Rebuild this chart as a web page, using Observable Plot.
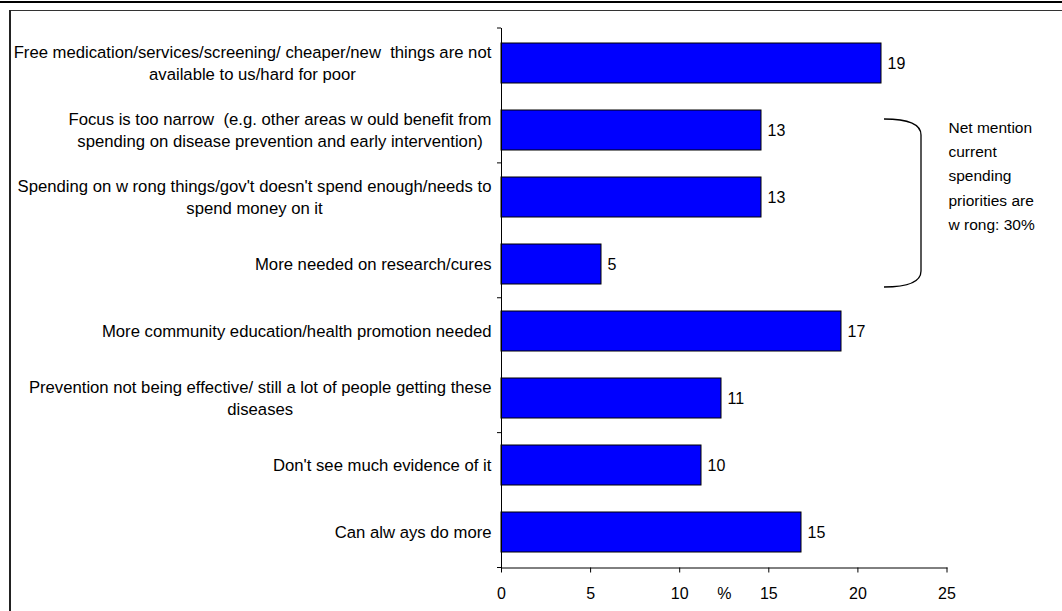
<!DOCTYPE html>
<html>
<head>
<meta charset="utf-8">
<script src="https://cdn.jsdelivr.net/npm/d3@7"></script>
<script src="https://cdn.jsdelivr.net/npm/@observablehq/plot@0.6"></script>
<style>
  html, body { margin: 0; padding: 0; background: #fff; }
  #wrap { position: relative; width: 1062px; height: 611px; overflow: hidden; font-family: "Liberation Sans", Arial, sans-serif; }
  #wrap svg { position: absolute; left: 0; top: 0; }
  #wrap svg g[aria-label*="x-axis"], #wrap svg g[aria-label*="x-axis"] text { font-size: 16px !important; font-variant: normal !important; }
  .rule-thick { position: absolute; left: 0; right: 0; top: 1px; height: 2px; background: #000; }
  .rule-thin { position: absolute; left: 9px; right: 0; top: 10px; height: 1px; background: #333; }
  .rule-left { position: absolute; left: 9px; top: 10px; bottom: 0; width: 2px; background: #222; }
</style>
</head>
<body>
<div id="wrap">
  <div class="rule-thick"></div>
  <div class="rule-thin"></div>
  <div class="rule-left"></div>
</div>
<script>
// ---- data ----
const categories = [
  "Free medication/services/screening/ cheaper/new  things are not\navailable to us/hard for poor",
  "Focus is too narrow  (e.g. other areas w ould benefit from\nspending on disease prevention and early intervention)",
  "Spending on w rong things/gov't doesn't spend enough/needs to\nspend money on it",
  "More needed on research/cures",
  "More community education/health promotion needed",
  "Prevention not being effective/ still a lot of people getting these\ndiseases",
  "Don't see much evidence of it",
  "Can alw ays do more"
];
const values = [19, 13, 13, 5, 17, 11, 10, 15];
const tickLabels = [0, 5, 10, 15, 20, 25];
const axisTitle = "%";
const bracketFirst = 1;   // index of first bracketed category
const bracketLast = 3;    // index of last bracketed category
const bracketNote = "Net mention\ncurrent\nspending\npriorities are\nw rong: 30%";

// The printed axis in the source is compressed relative to the bars
const axisStretch = 0.891;

const rows = categories.map((c, i) => ({category: c, value: values[i]}));

const FONT = "Liberation Sans, Arial, sans-serif";

function yAxisTicks(index, scales, values, dims) {
  const g = d3.create("svg:g");
  const top = dims.marginTop, bottom = dims.height - dims.marginBottom;
  const n = categories.length;
  for (let k = 0; k <= n; k += 2) {
    const y = top + (bottom - top) * k / n;
    g.append("line")
      .attr("x1", dims.marginLeft - 4).attr("x2", dims.marginLeft)
      .attr("y1", y).attr("y2", y)
      .attr("stroke", "#000").attr("stroke-width", 1);
  }
  return g.node();
}

function bracket(index, scales, values, dims) {
  const xv = scales.x(21);
  const arm = 37;
  const r = 16;
  const yTop = scales.y(categories[bracketFirst]) + 9;
  const yBot = scales.y(categories[bracketLast + 1]) - 24;
  const p = d3.path();
  p.moveTo(xv - arm, yTop);
  p.quadraticCurveTo(xv, yTop, xv, yTop + r);
  p.lineTo(xv, yBot - r);
  p.quadraticCurveTo(xv, yBot, xv - arm, yBot);
  return d3.create("svg:path")
    .attr("d", p.toString())
    .attr("fill", "none")
    .attr("stroke", "#000")
    .attr("stroke-width", 1.3)
    .node();
}

const chart = Plot.plot({
  width: 1062,
  height: 611,
  marginLeft: 501,
  marginRight: 115.5,
  marginTop: 28,
  marginBottom: 43.5,
  style: {fontFamily: FONT, fontSize: "15px", color: "#000", background: "transparent"},
  x: {domain: [0, 25 * axisStretch], axis: null},
  y: {domain: categories, paddingInner: 0.4, paddingOuter: 0.2, axis: null},
  marks: [
    Plot.barX(rows, {x: "value", y: "category", fill: "#0000FF", stroke: "#000", strokeWidth: 1}),
    Plot.frame({anchor: "left", stroke: "#000"}),
    Plot.frame({anchor: "bottom", stroke: "#000"}),
    yAxisTicks,
    Plot.axisX(tickLabels.map(t => t * axisStretch), {
      tickSize: 5, tickPadding: 15, fontSize: 16,
      tickFormat: d => String(Math.round(d / axisStretch)),
      label: null, stroke: "#000"
    }),
    Plot.text([axisTitle], {
      x: 12.5 * axisStretch, frameAnchor: "bottom", lineAnchor: "top", dy: 20,
      text: d => d, fontSize: 16
    }),
    Plot.text(rows, {
      x: "value", y: "category", text: d => String(d.value),
      textAnchor: "start", dx: 6, fontSize: 16, fill: "#000"
    }),
    Plot.text(rows, {
      x: 0, y: "category", text: "category", textAnchor: "middle", dx: -10, dy: -2,
      lineHeight: 1.32, fontSize: 16.7, fill: "#000", className: "ylab"
    }),
    bracket,
    Plot.text([bracketNote], {
      x: 22.35, y: () => categories[2], dy: -24, text: d => d,
      textAnchor: "start", lineHeight: 1.57, fontSize: 15.5, fill: "#000"
    })
  ]
});

document.getElementById("wrap").appendChild(chart);

// center lines of each category label within a right-aligned block
d3.select(chart).selectAll(".ylab text").each(function() {
  const w = this.getBBox().width;
  const t = this.getAttribute("transform") || "";
  this.setAttribute("transform", t + ` translate(${-w / 2},0)`);
});
</script>
</body>
</html>
